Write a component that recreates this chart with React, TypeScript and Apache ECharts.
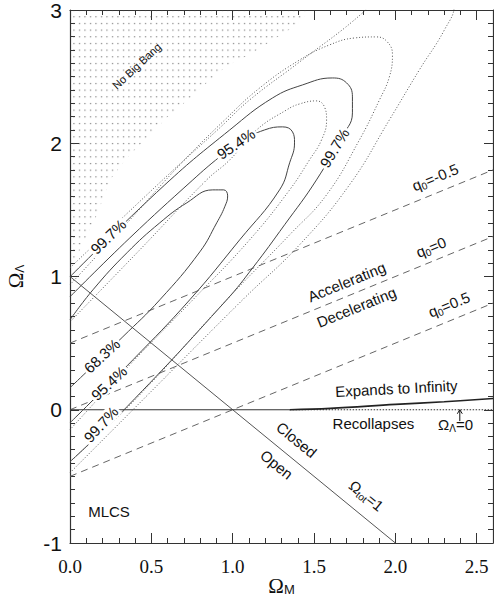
import React, { useEffect, useRef } from "react";
import * as echarts from "echarts";

// ---------- axes ----------
const xMin = 0, xMax = 2.6, yMin = -1, yMax = 3;

// ---------- "No Big Bang" boundary (Ω_M, Ω_Λ) ----------
const noBigBangX = [1.472, 1.393, 1.276, 1.123, 0.963, 0.84, 0.724, 0.601, 0.479, 0.356, 0.245, 0.166, 0.061, 0];
const noBigBangY = [3.0, 2.888, 2.798, 2.678, 2.58, 2.453, 2.325, 2.198, 2.048, 1.898, 1.725, 1.463, 1.2, 1.035];

// ---------- solid confidence contours ----------
const solid683X = [0, 0.325, 0.552, 0.798, 0.902, 0.951, 0.969, 0.945, 0.877, 0.718, 0.552, 0.35, 0.141, 0];
const solid683Y = [0.165, 0.548, 0.825, 1.185, 1.403, 1.523, 1.605, 1.65, 1.65, 1.553, 1.403, 1.178, 0.9, 0.675];
const solid954X = [0, 0.387, 0.736, 1.043, 1.288, 1.35, 1.38, 1.368, 1.307, 1.196, 1.043, 0.92, 0.755, 0.368, 0];
const solid954Y = [-0.098, 0.375, 0.825, 1.275, 1.65, 1.853, 2.003, 2.085, 2.123, 2.1, 2.01, 1.898, 1.725, 1.29, 0.848];
const solid997X = [0, 0.35, 0.963, 1.123, 1.319, 1.515, 1.656, 1.736, 1.736, 1.7, 1.613, 1.43, 1.245, 0.982, 0.583, 0];
const solid997Y = [-0.39, 0.0225, 0.825, 1.065, 1.388, 1.725, 2.025, 2.228, 2.348, 2.453, 2.49, 2.438, 2.34, 2.1, 1.688, 0.998];

// ---------- dotted confidence contours ----------
const dotted683X = [0, 0.368, 0.755, 1.104, 1.35, 1.472, 1.546, 1.577, 1.564, 1.515, 1.411, 1.331, 1.147, 0.982, 0.84, 0.429, 0];
const dotted683Y = [-0.15, 0.338, 0.825, 1.275, 1.65, 1.875, 2.025, 2.175, 2.273, 2.318, 2.295, 2.25, 2.1, 1.875, 1.725, 1.2, 0.66];
const dotted954X = [0, 0.399, 0.963, 1.35, 1.577, 1.779, 1.902, 1.963, 1.982, 1.951, 1.883, 1.748, 1.595, 1.411, 1.166, 0.951, 0.675, 0.368, 0];
const dotted954Y = [-0.39, 0.075, 0.825, 1.313, 1.613, 2.025, 2.325, 2.498, 2.663, 2.76, 2.798, 2.79, 2.738, 2.625, 2.415, 2.175, 1.838, 1.425, 0.938];
const dotted997X = [0, 0.184, 0.448, 1.061, 1.411, 1.718, 1.963, 2.147, 2.301, 2.362, 2.27, 2.025, 1.871, 1.798, 1.411, 1.104, 0.92, 0.583, 0];
const dotted997Y = [-0.473, -0.248, 0.075, 0.825, 1.238, 1.688, 2.175, 2.55, 2.85, 3.04, 3.23, 3.23, 3.1, 2.978, 2.61, 2.325, 2.115, 1.74, 1.065];

// ---------- deceleration-parameter lines ----------
const qLineX = [0, 2.6];
const qMinusHalfY = [0.5, 1.8];
const qZeroY = [0, 1.3];
const qHalfY = [-0.5, 0.8];

// ---------- flat-universe line Ω_tot = 1 ----------
const flatX = [0, 2];
const flatY = [1, -1];

// ---------- expand / recollapse boundary ----------
const expandX = [1.35, 1.6, 2.0, 2.3, 2.6];
const expandY = [0, 0.01, 0.04, 0.06, 0.085];
const zeroSolidX = [0, 1.35];
const zeroDottedX = [1.35, 2.6];

// ---------- styles ----------
const SANS = "'Liberation Sans', Arial, sans-serif";
const SERIF = "'Liberation Serif', 'Times New Roman', serif";
const INK = "#111";

type Note = { t: string; x: number; y: number; r: number; size: number; bg?: boolean };
const notes: Note[] = [
  { t: "No Big Bang", x: 0.41, y: 2.58, r: 43, size: 11 },
  { t: "99.7%", x: 0.235, y: 1.3, r: 44, size: 15, bg: true },
  { t: "95.4%", x: 1.02, y: 1.995, r: 34, size: 15, bg: true },
  { t: "99.7%", x: 1.626, y: 1.965, r: 59, size: 15, bg: true },
  { t: "68.3%", x: 0.196, y: 0.405, r: 43, size: 15, bg: true },
  { t: "95.4%", x: 0.24, y: 0.2, r: 43, size: 15, bg: true },
  { t: "99.7%", x: 0.19, y: -0.11, r: 47, size: 15, bg: true },
  { t: "{n|q}{s|0}{n|=-0.5}", x: 2.245, y: 1.745, r: 22, size: 15 },
  { t: "{n|q}{s|0}{n|=0}", x: 2.22, y: 1.22, r: 22, size: 15 },
  { t: "{n|q}{s|0}{n|=0.5}", x: 2.33, y: 0.79, r: 22, size: 15 },
  { t: "Accelerating", x: 1.7, y: 0.96, r: 22, size: 15 },
  { t: "Decelerating", x: 1.76, y: 0.77, r: 22, size: 15 },
  { t: "Expands to Infinity", x: 2.006, y: 0.16, r: 3, size: 15 },
  { t: "Recollapses", x: 1.865, y: -0.1, r: 0, size: 15 },
  { t: "{n|Ω}{s|Λ}{n|=0}", x: 2.37, y: -0.11, r: 0, size: 15 },
  { t: "Closed", x: 1.393, y: -0.225, r: -39, size: 15 },
  { t: "Open", x: 1.27, y: -0.41, r: -39, size: 15 },
  { t: "{n|Ω}{s|tot}{n|=1}", x: 1.822, y: -0.645, r: -39, size: 15 },
  { t: "MLCS", x: 0.24, y: -0.76, r: 0, size: 15 },
];

// arrow marking Ω_Λ = 0
const arrowX = 2.396;
const arrowFrom = -0.085;
const arrowTo = 0.0;

const zip = (xs: number[], ys: number[]) => xs.map((x, i) => [x, ys[i]]);

const dotSvg =
  "<svg xmlns='http://www.w3.org/2000/svg' width='5.5' height='6.67'><rect x='2' y='3' width='1' height='1' fill='#444'/></svg>";
const dotUrl = "data:image/svg+xml;charset=utf-8," + encodeURIComponent(dotSvg);

function richFor(size: number) {
  return {
    n: { fontSize: size, fontFamily: SANS, fill: INK, color: INK },
    s: { fontSize: Math.round(size * 0.66), fontFamily: SANS, fill: INK, color: INK, padding: [Math.round(size * 0.5), 0, 0, 0] },
  };
}

function lineSeries(name: string, xs: number[], ys: number[], type: any, color: string, width = 1, smooth: any = false, z = 3) {
  return {
    name,
    type: "line",
    data: zip(xs, ys),
    showSymbol: false,
    symbol: "none",
    smooth,
    clip: true,
    z,
    lineStyle: { type, color, width },
    silent: true,
  };
}

export default function App() {
  const ref = useRef<HTMLDivElement>(null);
  useEffect(() => {
    if (!ref.current) return;
    const chart = echarts.init(ref.current, null, { renderer: "svg" });
    const axisLine = { show: true, onZero: false, lineStyle: { color: "#333", width: 1.2 } };
    const noLine = { show: false, onZero: false };
    const tickStyle = { color: "#333", width: 1 };
    const xBase = { type: "value", min: xMin, max: xMax, splitLine: { show: false } };
    const yBase = { type: "value", min: yMin, max: yMax, splitLine: { show: false } };
    const option: any = {
      animation: false,
      backgroundColor: "#fff",
      grid: { left: 70, right: 1, top: 10, bottom: 57, containLabel: false, outerBoundsMode: "none" },
      xAxis: [
        {
          ...xBase,
          position: "bottom",
          interval: 0.5,
          axisLine,
          axisTick: { show: true, inside: true, length: 10, lineStyle: tickStyle },
          axisLabel: {
            show: true,
            showMaxLabel: false,
            formatter: (v: number) => v.toFixed(1),
            fontFamily: SERIF,
            fontSize: 19,
            color: INK,
            margin: 14,
          },
          name: "{o|Ω}{s|M}",
          nameLocation: "middle",
          nameGap: 32,
          nameMoveOverlap: false,
          nameTextStyle: {
            color: INK,
            rich: {
              o: { fontFamily: SERIF, fontSize: 21, color: INK },
              s: { fontFamily: SANS, fontSize: 13, color: INK, padding: [7, 0, 0, 0] },
            },
          },
        },
        {
          ...xBase,
          position: "bottom",
          interval: 0.1,
          axisLine: noLine,
          axisTick: { show: true, inside: true, length: 5, lineStyle: tickStyle },
          axisLabel: { show: false },
        },
        {
          ...xBase,
          position: "top",
          interval: 0.5,
          axisLine,
          axisTick: { show: true, inside: true, length: 10, lineStyle: tickStyle },
          axisLabel: { show: false },
        },
        {
          ...xBase,
          position: "top",
          interval: 0.1,
          axisLine: noLine,
          axisTick: { show: true, inside: true, length: 5, lineStyle: tickStyle },
          axisLabel: { show: false },
        },
      ],
      yAxis: [
        {
          ...yBase,
          position: "left",
          interval: 1,
          axisLine,
          axisTick: { show: true, inside: true, length: 9, lineStyle: tickStyle },
          axisLabel: { show: true, fontFamily: SANS, fontSize: 21, color: INK, margin: 8 },
          name: "{o|Ω}{s|Λ}",
          nameLocation: "middle",
          nameGap: 44,
          nameRotate: 90,
          nameMoveOverlap: false,
          nameTextStyle: {
            color: INK,
            rich: {
              o: { fontFamily: SERIF, fontSize: 21, color: INK },
              s: { fontFamily: SANS, fontSize: 12, color: INK, padding: [9, 0, 0, 0] },
            },
          },
        },
        {
          ...yBase,
          position: "left",
          interval: 0.1,
          axisLine: noLine,
          axisTick: { show: true, inside: true, length: 5, lineStyle: tickStyle },
          axisLabel: { show: false },
        },
        {
          ...yBase,
          position: "right",
          interval: 1,
          axisLine,
          axisTick: { show: true, inside: true, length: 9, lineStyle: tickStyle },
          axisLabel: { show: false },
        },
        {
          ...yBase,
          position: "right",
          interval: 0.1,
          axisLine: noLine,
          axisTick: { show: true, inside: true, length: 5, lineStyle: tickStyle },
          axisLabel: { show: false },
        },
      ],
      series: [
        {
          name: "No Big Bang",
          type: "custom",
          z: 1,
          silent: true,
          data: [[0, 0]],
          renderItem: (params: any, api: any) => {
            const pts = [api.coord([xMin, yMax])].concat(zip(noBigBangX, noBigBangY).map((p) => api.coord(p)));
            return {
              type: "polygon",
              shape: { points: pts },
              style: {
                fill: { image: dotUrl, repeat: "repeat", imageWidth: 5.5, imageHeight: 6.67 },
                stroke: null,
              },
            };
          },
        },
        lineSeries("q0=-0.5", qLineX, qMinusHalfY, [7, 5], "#666"),
        lineSeries("q0=0", qLineX, qZeroY, [7, 5], "#666"),
        lineSeries("q0=0.5", qLineX, qHalfY, [7, 5], "#666"),
        lineSeries("Omega_tot=1", flatX, flatY, "solid", "#555"),
        lineSeries("zero", zeroSolidX, [0, 0], "solid", "#333"),
        lineSeries("zero dotted", zeroDottedX, [0, 0], [1.5, 1.5], "#333"),
        lineSeries("expand", expandX, expandY, "solid", "#222", 1.6, 0.4),
        lineSeries("solid 68.3", solid683X, solid683Y, "solid", "#444", 1, 0.45),
        lineSeries("solid 95.4", solid954X, solid954Y, "solid", "#444", 1, 0.45),
        lineSeries("solid 99.7", solid997X, solid997Y, "solid", "#444", 1, 0.45),
        lineSeries("dotted 68.3", dotted683X, dotted683Y, [1, 2], "#555", 1, 0.45),
        lineSeries("dotted 95.4", dotted954X, dotted954Y, [1, 2], "#555", 1, 0.45),
        lineSeries("dotted 99.7", dotted997X, dotted997Y, [1, 2], "#555", 1, 0.45),
        {
          name: "arrow",
          type: "custom",
          z: 12,
          silent: true,
          data: [[arrowX, arrowFrom, arrowTo]],
          renderItem: (params: any, api: any) => {
            const p0 = api.coord([api.value(0), api.value(1)]);
            const p1 = api.coord([api.value(0), api.value(2)]);
            return {
              type: "group",
              children: [
                { type: "line", shape: { x1: p0[0], y1: p0[1], x2: p1[0], y2: p1[1] }, style: { stroke: INK, lineWidth: 1 } },
                {
                  type: "polyline",
                  shape: { points: [[p1[0] - 2.5, p1[1] + 4], [p1[0], p1[1]], [p1[0] + 2.5, p1[1] + 4]] },
                  style: { stroke: INK, lineWidth: 1, fill: null },
                },
              ],
            };
          },
        },
        {
          name: "notes",
          type: "custom",
          z: 10,
          silent: true,
          data: notes.map((n, i) => [n.x, n.y, i]),
          renderItem: (params: any, api: any) => {
            const n = notes[api.value(2)];
            const p = api.coord([api.value(0), api.value(1)]);
            return {
              type: "text",
              x: p[0],
              y: p[1],
              rotation: (n.r * Math.PI) / 180,
              style: {
                text: n.t,
                fill: INK,
                fontSize: n.size,
                fontFamily: SANS,
                align: "center",
                verticalAlign: "middle",
                backgroundColor: n.bg ? "#fff" : undefined,
                padding: n.bg ? [0, 2, 0, 2] : 0,
                rich: richFor(n.size),
              },
            };
          },
        },
      ],
    };
    chart.setOption(option);
    return () => chart.dispose();
  }, []);
  return <div ref={ref} style={{ position: "absolute", left: 0, top: 0, width: 494, height: 600 }} />;
}
